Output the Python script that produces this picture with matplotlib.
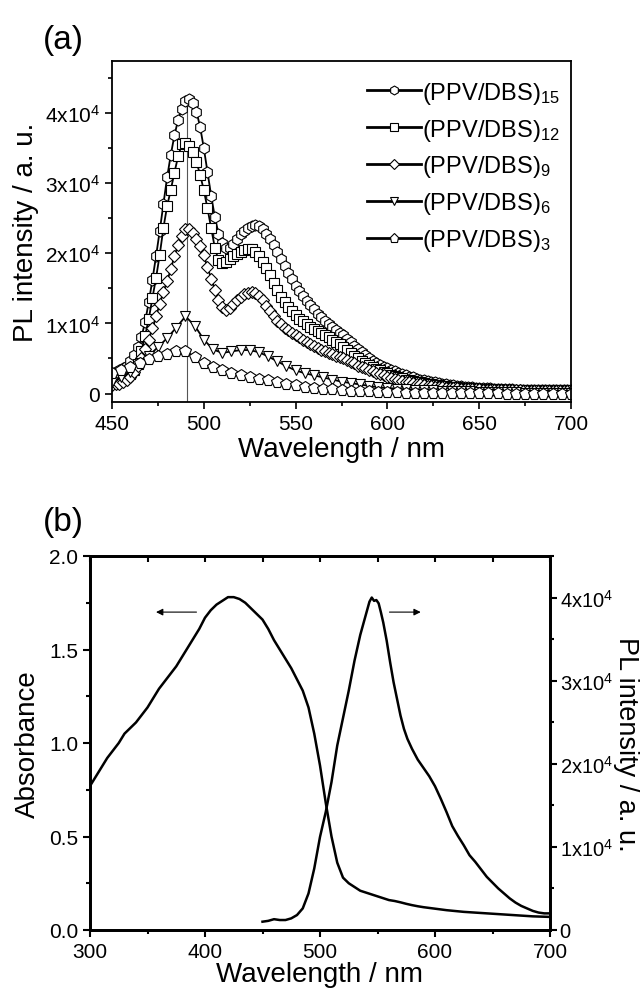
import numpy as np
import matplotlib as mpl
mpl.use('Agg')
from matplotlib import pyplot as plt
from matplotlib.ticker import MultipleLocator, FuncFormatter

plt.rcParams['font.family'] = ['Liberation Sans', 'DejaVu Sans']
plt.rcParams['mathtext.fontset'] = 'custom'
plt.rcParams['mathtext.rm'] = 'Liberation Sans'
plt.rcParams['mathtext.it'] = 'Liberation Sans:italic'
plt.rcParams['mathtext.default'] = 'regular'

# ---------------- panel (a): PL of (PPV/DBS)n films, intensities in 1e4 a.u.
nm_dense = np.arange(450, 701, 2)   # wavelengths for n = 15, 12, 9
nm_sparse = np.arange(450, 701, 5)  # wavelengths for n = 6, 3

pl15 = [0.30, 0.31, 0.33, 0.36, 0.40, 0.46, 0.55, 0.66, 0.80, 1.02,
        1.30, 1.62, 1.96, 2.32, 2.70, 3.08, 3.40, 3.68, 3.90, 4.06,
        4.17, 4.20, 4.14, 4.02, 3.80, 3.50, 3.16, 2.82, 2.52, 2.28,
        2.14, 2.08, 2.08, 2.13, 2.20, 2.27, 2.32, 2.36, 2.39, 2.40,
        2.39, 2.35, 2.28, 2.20, 2.12, 2.02, 1.92, 1.82, 1.72, 1.63,
        1.54, 1.46, 1.39, 1.32, 1.26, 1.20, 1.14, 1.09, 1.04, 0.99,
        0.95, 0.91, 0.87, 0.83, 0.78, 0.73, 0.68, 0.63, 0.59, 0.55,
        0.51, 0.47, 0.44, 0.41, 0.38, 0.36, 0.34, 0.32, 0.30, 0.28,
        0.26, 0.24, 0.23, 0.21, 0.20, 0.19, 0.18, 0.17, 0.16, 0.15,
        0.14, 0.13, 0.125, 0.12, 0.11, 0.105, 0.10, 0.095, 0.09, 0.086,
        0.082, 0.079, 0.076, 0.073, 0.07, 0.068, 0.066, 0.064, 0.062, 0.06,
        0.058, 0.057, 0.056, 0.055, 0.054, 0.053, 0.052, 0.051, 0.05, 0.05,
        0.049, 0.048, 0.048, 0.047, 0.047, 0.046]

pl12 = [0.21, 0.21, 0.22, 0.23, 0.25, 0.28, 0.33, 0.42, 0.60, 0.82,
        1.06, 1.36, 1.65, 1.98, 2.36, 2.67, 2.90, 3.15, 3.38, 3.55,
        3.57, 3.53, 3.44, 3.30, 3.12, 2.90, 2.64, 2.36, 2.08, 1.90,
        1.86, 1.88, 1.92, 1.96, 1.99, 2.02, 2.04, 2.06, 2.06, 2.02,
        1.96, 1.88, 1.79, 1.69, 1.58, 1.47, 1.38, 1.30, 1.23, 1.17,
        1.12, 1.07, 1.03, 0.99, 0.95, 0.92, 0.89, 0.86, 0.83, 0.80,
        0.77, 0.74, 0.70, 0.66, 0.62, 0.58, 0.54, 0.50, 0.47, 0.44,
        0.41, 0.38, 0.35, 0.33, 0.31, 0.29, 0.27, 0.25, 0.23, 0.22,
        0.20, 0.19, 0.18, 0.17, 0.16, 0.15, 0.14, 0.13, 0.125, 0.12,
        0.11, 0.105, 0.10, 0.095, 0.09, 0.085, 0.08, 0.078, 0.075, 0.072,
        0.07, 0.068, 0.066, 0.064, 0.062, 0.06, 0.058, 0.056, 0.055, 0.054,
        0.053, 0.052, 0.051, 0.05, 0.05, 0.049, 0.048, 0.048, 0.047, 0.047,
        0.046, 0.046, 0.045, 0.045, 0.045, 0.045]

pl9 = [0.12, 0.13, 0.14, 0.16, 0.19, 0.24, 0.31, 0.40, 0.51, 0.63,
       0.77, 0.93, 1.10, 1.28, 1.45, 1.60, 1.77, 1.96, 2.12, 2.25,
       2.35, 2.34, 2.29, 2.21, 2.11, 1.97, 1.80, 1.64, 1.48, 1.34,
       1.24, 1.19, 1.22, 1.28, 1.34, 1.38, 1.42, 1.44, 1.45, 1.43,
       1.39, 1.33, 1.25, 1.17, 1.10, 1.04, 0.99, 0.94, 0.90, 0.86,
       0.83, 0.80, 0.77, 0.74, 0.71, 0.68, 0.65, 0.62, 0.60, 0.58,
       0.56, 0.54, 0.52, 0.50, 0.48, 0.45, 0.43, 0.40, 0.38, 0.36,
       0.34, 0.32, 0.30, 0.28, 0.26, 0.24, 0.22, 0.21, 0.19, 0.18,
       0.17, 0.16, 0.15, 0.14, 0.13, 0.12, 0.115, 0.11, 0.10, 0.095,
       0.09, 0.085, 0.08, 0.077, 0.074, 0.07, 0.068, 0.066, 0.064, 0.062,
       0.06, 0.058, 0.056, 0.054, 0.052, 0.05, 0.049, 0.048, 0.047, 0.046,
       0.045, 0.044, 0.043, 0.042, 0.041, 0.04, 0.04, 0.039, 0.039, 0.038,
       0.038, 0.037, 0.037, 0.036, 0.036, 0.035]

pl6 = [0.17, 0.23, 0.31, 0.44, 0.54, 0.66, 0.79, 0.94, 1.10, 0.97,
       0.77, 0.63, 0.58, 0.60, 0.62, 0.62, 0.59, 0.53, 0.46, 0.39,
       0.33, 0.29, 0.26, 0.23, 0.20, 0.17, 0.15, 0.13, 0.11, 0.09,
       0.08, 0.07, 0.06, 0.055, 0.05, 0.045, 0.04, 0.035, 0.03, 0.03,
       0.025, 0.025, 0.02, 0.02, 0.02, 0.015, 0.015, 0.015, 0.01, 0.01,
       0.01]

pl3 = [0.30, 0.33, 0.38, 0.43, 0.49, 0.53, 0.57, 0.60, 0.61, 0.52,
       0.43, 0.38, 0.33, 0.30, 0.27, 0.24, 0.21, 0.19, 0.17, 0.14,
       0.12, 0.10, 0.08, 0.07, 0.06, 0.05, 0.04, 0.035, 0.03, 0.025,
       0.02, 0.02, 0.015, 0.015, 0.01, 0.01, 0.01, 0.01, 0.005, 0.005,
       0.005, 0.005, 0.005, 0.0, 0.0, 0.0, 0.0, 0.0, 0.0, 0.0,
       0.0]

series_a = [
    (nm_dense, pl15, 'h', 8.0, r'(PPV/DBS)$_{15}$'),
    (nm_dense, pl12, 's', 6.5, r'(PPV/DBS)$_{12}$'),
    (nm_dense, pl9, 'D', 6.0, r'(PPV/DBS)$_{9}$'),
    (nm_sparse, pl6, 'v', 7.5, r'(PPV/DBS)$_{6}$'),
    (nm_sparse, pl3, 'p', 8.5, r'(PPV/DBS)$_{3}$'),
]

peak_nm = 491      # thin guide line at the main PL peak
peak_top = 4.2e4

# ---------------- panel (b): absorbance and PL of PPV
abs_nm = np.arange(300, 701, 5)
absorb = [0.77, 0.82, 0.87, 0.92, 0.96, 1.00, 1.05, 1.08, 1.11, 1.15,
          1.19, 1.24, 1.29, 1.33, 1.37, 1.41, 1.46, 1.51, 1.56, 1.61,
          1.67, 1.71, 1.74, 1.76, 1.78, 1.78, 1.77, 1.75, 1.72, 1.69,
          1.66, 1.61, 1.55, 1.50, 1.45, 1.40, 1.34, 1.28, 1.19, 1.05,
          0.88, 0.68, 0.50, 0.36, 0.28, 0.25, 0.23, 0.21, 0.20, 0.19,
          0.18, 0.17, 0.16, 0.155, 0.148, 0.14, 0.133, 0.127, 0.122, 0.118,
          0.114, 0.110, 0.106, 0.103, 0.100, 0.097, 0.095, 0.093, 0.091, 0.089,
          0.087, 0.085, 0.083, 0.081, 0.079, 0.077, 0.075, 0.073, 0.072, 0.071,
          0.070]

pl_nm = [450, 455, 460, 465, 470, 475, 480, 485, 490, 495,
         500, 505, 510, 515, 520, 525, 530, 535, 540, 543,
         545, 547, 549, 551, 553, 555, 558, 561, 564, 567,
         570, 573, 576, 580, 585, 590, 595, 600, 605, 610,
         615, 620, 625, 630, 635, 640, 645, 650, 655, 660,
         665, 670, 675, 680, 685, 690, 695, 700]
pl_ppv = [0.10, 0.11, 0.13, 0.12, 0.12, 0.14, 0.18, 0.26, 0.44, 0.74,
          1.12, 1.42, 1.78, 2.22, 2.55, 2.88, 3.24, 3.55, 3.80, 3.95,
          4.00, 3.96, 3.97, 3.93, 3.82, 3.70, 3.48, 3.22, 2.98, 2.78,
          2.58, 2.42, 2.30, 2.18, 2.05, 1.95, 1.85, 1.73, 1.58, 1.42,
          1.25, 1.13, 1.02, 0.90, 0.82, 0.73, 0.64, 0.57, 0.50, 0.44,
          0.38, 0.33, 0.29, 0.26, 0.23, 0.21, 0.20, 0.20]

arrow_y = 1.70
arrow_left = (395, 355)   # from, to (absorbance -> left axis)
arrow_right = (558, 590)  # from, to (PL -> right axis)


def sci_fmt(v, pos):
    if abs(v) < 1:
        return '0'
    return '%dx10$^{4}$' % round(v / 1e4)


fig = plt.figure(figsize=(6.42, 9.95), dpi=100)

# ---------------- panel (a)
ax = fig.add_axes([112/642, 1-403/995, 459/642, 341/995])
for x, y, m, ms, lab in series_a:
    ax.plot(x, np.array(y)*1e4, color='black', lw=1.3, marker=m, ms=ms,
            mfc='white', mec='black', mew=0.8, label=lab)
ax.vlines(peak_nm, -1200, peak_top, color='#555555', lw=0.8, zorder=0)

ax.set_xlim(450, 700)
ax.set_ylim(-1200, 47400)
ax.xaxis.set_major_locator(MultipleLocator(50))
ax.xaxis.set_minor_locator(MultipleLocator(25))
ax.yaxis.set_major_locator(MultipleLocator(1e4))
ax.yaxis.set_minor_locator(MultipleLocator(5e3))
ax.yaxis.set_major_formatter(FuncFormatter(sci_fmt))
ax.tick_params(which='major', direction='out', length=5, width=1.2, labelsize=15)
ax.tick_params(which='minor', direction='out', length=3, width=1.2)
for s in ax.spines.values():
    s.set_linewidth(1.3)
ax.set_xlabel('Wavelength / nm', fontsize=20, labelpad=2)
ax.set_ylabel('PL intensity / a. u.', fontsize=20, labelpad=4)
leg = ax.legend(loc='upper left', bbox_to_anchor=(0.555, 0.945), frameon=False,
                fontsize=17, handlelength=2.3, handletextpad=0.05,
                labelspacing=0.46, borderpad=0, borderaxespad=0, markerscale=0.8)
for h in leg.get_lines():
    h.set_linewidth(2.0)
fig.text(43/642, 1-40/995, '(a)', fontsize=24, ha='left', va='center')

# ---------------- panel (b)
bx = fig.add_axes([90/642, 1-931/995, 460/642, 374/995])
bx.plot(abs_nm, absorb, color='black', lw=1.8)
bx.set_xlim(300, 700)
bx.set_ylim(0, 2.0)
bx.xaxis.set_major_locator(MultipleLocator(100))
bx.xaxis.set_minor_locator(MultipleLocator(50))
bx.yaxis.set_major_locator(MultipleLocator(0.5))
bx.yaxis.set_minor_locator(MultipleLocator(0.25))
bx.yaxis.set_major_formatter(FuncFormatter(lambda v, p: '%.1f' % v))
bx.tick_params(which='major', direction='out', length=5, width=1.5, labelsize=15)
bx.tick_params(which='minor', direction='out', length=3, width=1.5)
bx.set_xlabel('Wavelength / nm', fontsize=20, labelpad=0)
bx.set_ylabel('Absorbance', fontsize=20, labelpad=6)

top = bx.secondary_xaxis('top')
top.xaxis.set_major_locator(MultipleLocator(50))
top.tick_params(direction='in', length=4, width=1.5, labeltop=False)

bxr = bx.twinx()
bxr.plot(pl_nm, np.array(pl_ppv)*1e4, color='black', lw=1.8)
bxr.set_ylim(0, 45000)
bxr.yaxis.set_major_locator(MultipleLocator(1e4))
bxr.yaxis.set_minor_locator(MultipleLocator(5e3))
bxr.yaxis.set_major_formatter(FuncFormatter(sci_fmt))
bxr.tick_params(which='major', direction='out', length=5, width=1.5,
                labelsize=14.5, pad=2)
bxr.tick_params(which='minor', direction='out', length=3, width=1.5)
for a in (bx, bxr):
    for s in a.spines.values():
        s.set_linewidth(2.0)
fig.text(626/642, 1-744/995, 'PL intensity / a. u.', fontsize=19.5,
         rotation=270, ha='center', va='center')

bx.annotate('', xy=(arrow_left[1], arrow_y), xytext=(arrow_left[0], arrow_y),
            arrowprops=dict(arrowstyle='-|>', color='black', lw=0.8,
                            mutation_scale=10))
bx.annotate('', xy=(arrow_right[1], arrow_y), xytext=(arrow_right[0], arrow_y),
            arrowprops=dict(arrowstyle='-|>', color='black', lw=0.8,
                            mutation_scale=10))
fig.text(43/642, 1-522/995, '(b)', fontsize=24, ha='left', va='center')

fig.savefig('out.png', dpi=100)
